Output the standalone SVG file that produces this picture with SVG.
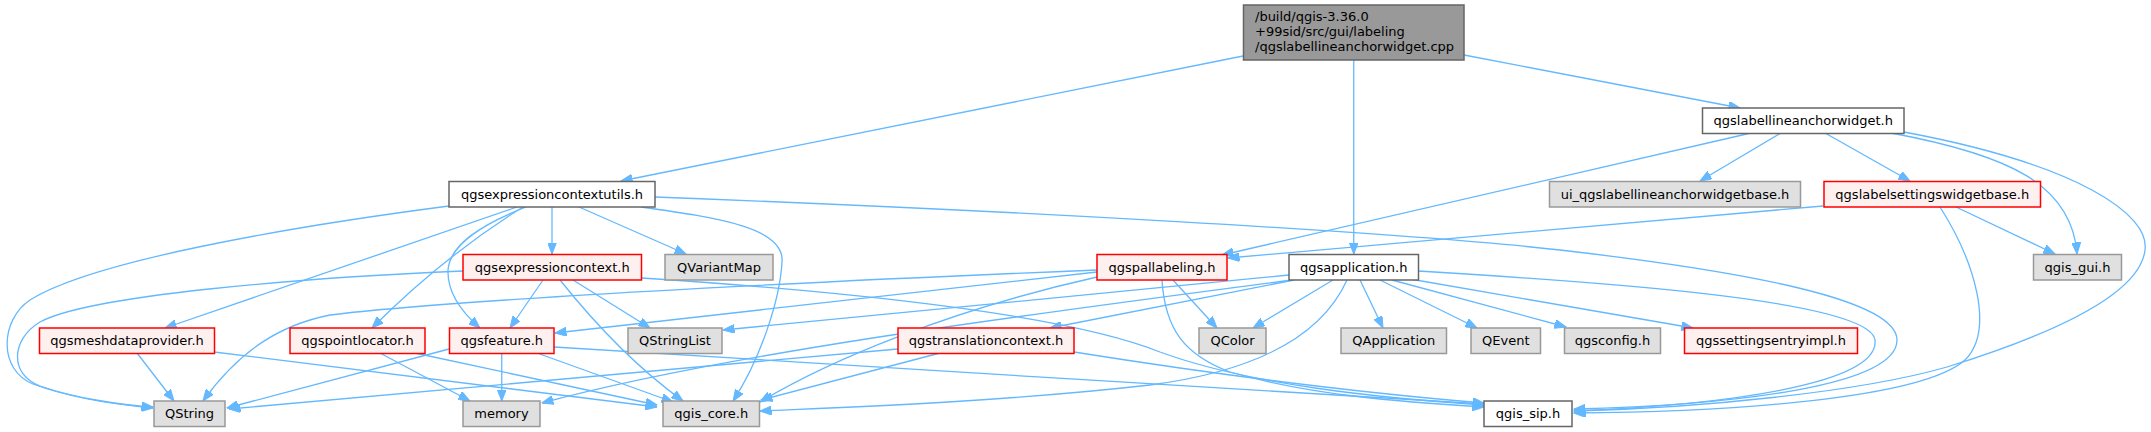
<svg xmlns="http://www.w3.org/2000/svg" width="2151" height="432" viewBox="0 0 2151 432">
<style>
  rect { stroke-width: 1.5; }
  .w rect { fill: #ffffff; stroke: #666666; }
  .g rect { fill: #e0e0e0; stroke: #999999; }
  .r rect { fill: #fff0f0; stroke: #ff0000; }
  .top rect { fill: #999999; stroke: #666666; }
  text { font-family: "DejaVu Sans", "Liberation Sans", sans-serif; font-size: 13px; fill: #000000; }
  .c { text-anchor: middle; }
  #edges path { fill: none; stroke: #63b8ff; stroke-width: 1.3; marker-end: url(#arr); }
</style>
<defs>
  <marker id="arr" markerUnits="userSpaceOnUse" markerWidth="12" markerHeight="9" viewBox="0 0 12 9" refX="11.5" refY="4.5" orient="auto">
    <path d="M0,0 L11.5,4.5 L0,9 z" fill="#63b8ff" stroke="#63b8ff" stroke-width="1"/>
  </marker>
</defs>
<rect width="2151" height="432" fill="#ffffff"/>
<g id="edges">
  <path d="M1243,56 L621,181"/>
  <path d="M1353.75,60 L1353.75,254"/>
  <path d="M1464,55 L1740,108"/>
  <path d="M1751,133 L1222,255"/>
  <path d="M1781,133 L1700,181"/>
  <path d="M1825,133 L1910,181"/>
  <path d="M1891,133 C2010,155 2072,185 2077,254"/>
  <path d="M1904,132 C2080,165 2150,215 2145,250 C2140,295 2050,335 1947,367 C1860,392 1700,408 1574,411"/>
  <path d="M1823,206 L1228,258"/>
  <path d="M1956,207 L2055,254"/>
  <path d="M1940,207 C1975,262 1995,330 1965,360 C1920,400 1720,412 1574,413"/>
  <path d="M449,206 C280,228 90,262 30,300 C0,320 -2,370 33,384 C70,398 120,405 153,408"/>
  <path d="M463,271 C300,278 90,295 40,322 C10,340 10,375 40,386 C75,398 120,405 153,407"/>
  <path d="M137,353 L174,401"/>
  <path d="M1097,270 C800,282 450,300 330,315 C280,325 240,350 203,401"/>
  <path d="M449,349 L227,408"/>
  <path d="M898,349 L229,409"/>
  <path d="M517,207 L165,328"/>
  <path d="M523,207 C470,240 420,280 372,328"/>
  <path d="M526,207 C480,225 450,245 448,270 C447,295 465,315 480,328"/>
  <path d="M552,207 L552,254"/>
  <path d="M579,207 L686,254"/>
  <path d="M641,207 C720,218 785,228 782,262 C780,300 760,360 733,401"/>
  <path d="M655,197 C1000,210 1400,232 1560,250 C1750,272 1897,300 1897,340 C1897,385 1740,405 1574,409"/>
  <path d="M543,280 L510,328"/>
  <path d="M573,280 L650,328"/>
  <path d="M560,280 C600,330 640,370 683,401"/>
  <path d="M642,278 C900,295 1080,320 1160,352 C1250,385 1380,398 1484,405"/>
  <path d="M1097,272 L555,333"/>
  <path d="M1097,277 C950,310 830,360 760,402"/>
  <path d="M1173,280 L1217,328"/>
  <path d="M1162,280 C1165,330 1185,355 1230,372 C1310,395 1400,402 1484,407"/>
  <path d="M501.75,353 L501.75,401"/>
  <path d="M537,353 L673,402"/>
  <path d="M554,347 C800,365 1200,385 1484,404"/>
  <path d="M940,353 L761,400"/>
  <path d="M1074,352 C1200,372 1350,392 1484,403"/>
  <path d="M380,353 L470,401"/>
  <path d="M415,353 L657,405"/>
  <path d="M214,352 L657,407"/>
  <path d="M1289,275 L723,330"/>
  <path d="M1292,280 C1000,318 720,355 542,403"/>
  <path d="M1294,280 L1050,328"/>
  <path d="M1347,280 C1320,340 1250,372 1150,385 C1000,402 850,407 760,411"/>
  <path d="M1333,280 L1253,328"/>
  <path d="M1360,280 L1383,328"/>
  <path d="M1380,280 L1477,328"/>
  <path d="M1392,280 L1566,327"/>
  <path d="M1410,279 L1693,328"/>
  <path d="M1418,271 C1600,282 1870,300 1875,340 C1880,385 1720,405 1574,411"/>
</g>
<g id="n_top" class="top"><rect x="1243.5" y="5" width="220.5" height="55"/><text x="1255" y="21">/build/qgis-3.36.0</text><text x="1255" y="36">+99sid/src/gui/labeling</text><text x="1255" y="51">/qgslabellineanchorwidget.cpp</text></g>
<g id="n_qgslabellineanchorwidget" class="w"><rect x="1702.5" y="108" width="201.5" height="25.5"/><text class="c" x="1803.25" y="125">qgslabellineanchorwidget.h</text></g>
<g id="n_qgsexpressioncontextutils" class="w"><rect x="449" y="181.5" width="206" height="25.5"/><text class="c" x="552" y="198.5">qgsexpressioncontextutils.h</text></g>
<g id="n_ui_qgslabellineanchorwidgetbase" class="g"><rect x="1549.5" y="181.5" width="251" height="25.5"/><text class="c" x="1675" y="198.5">ui_qgslabellineanchorwidgetbase.h</text></g>
<g id="n_qgslabelsettingswidgetbase" class="r"><rect x="1824" y="181.5" width="216.5" height="25.5"/><text class="c" x="1932.25" y="198.5">qgslabelsettingswidgetbase.h</text></g>
<g id="n_qgsexpressioncontext" class="r"><rect x="463" y="254.5" width="178.5" height="25.5"/><text class="c" x="552.25" y="271.5">qgsexpressioncontext.h</text></g>
<g id="n_QVariantMap" class="g"><rect x="665" y="254.5" width="108" height="25.5"/><text class="c" x="719" y="271.5">QVariantMap</text></g>
<g id="n_qgspallabeling" class="r"><rect x="1097" y="254.5" width="130" height="25.5"/><text class="c" x="1162" y="271.5">qgspallabeling.h</text></g>
<g id="n_qgsapplication" class="w"><rect x="1289" y="254.5" width="129.5" height="25.5"/><text class="c" x="1353.75" y="271.5">qgsapplication.h</text></g>
<g id="n_qgis_gui" class="g"><rect x="2033.5" y="254.5" width="88" height="25.5"/><text class="c" x="2077.5" y="271.5">qgis_gui.h</text></g>
<g id="n_qgsmeshdataprovider" class="r"><rect x="39.5" y="328" width="175" height="25.5"/><text class="c" x="127" y="345">qgsmeshdataprovider.h</text></g>
<g id="n_qgspointlocator" class="r"><rect x="290" y="328" width="135" height="25.5"/><text class="c" x="357.5" y="345">qgspointlocator.h</text></g>
<g id="n_qgsfeature" class="r"><rect x="449.5" y="328" width="104.5" height="25.5"/><text class="c" x="501.75" y="345">qgsfeature.h</text></g>
<g id="n_QStringList" class="g"><rect x="628" y="328" width="94" height="25.5"/><text class="c" x="675" y="345">QStringList</text></g>
<g id="n_qgstranslationcontext" class="r"><rect x="898" y="328" width="176" height="25.5"/><text class="c" x="986" y="345">qgstranslationcontext.h</text></g>
<g id="n_QColor" class="g"><rect x="1199" y="328" width="67" height="25.5"/><text class="c" x="1232.5" y="345">QColor</text></g>
<g id="n_QApplication" class="g"><rect x="1341" y="328" width="105.5" height="25.5"/><text class="c" x="1393.75" y="345">QApplication</text></g>
<g id="n_QEvent" class="g"><rect x="1471" y="328" width="69.5" height="25.5"/><text class="c" x="1505.75" y="345">QEvent</text></g>
<g id="n_qgsconfig" class="g"><rect x="1564.5" y="328" width="96" height="25.5"/><text class="c" x="1612.5" y="345">qgsconfig.h</text></g>
<g id="n_qgssettingsentryimpl" class="r"><rect x="1684.5" y="328" width="173" height="25.5"/><text class="c" x="1771" y="345">qgssettingsentryimpl.h</text></g>
<g id="n_QString" class="g"><rect x="154" y="401" width="71" height="25.5"/><text class="c" x="189.5" y="418">QString</text></g>
<g id="n_memory" class="g"><rect x="463" y="401" width="77" height="25.5"/><text class="c" x="501.5" y="418">memory</text></g>
<g id="n_qgis_core" class="g"><rect x="663" y="401" width="96.5" height="25.5"/><text class="c" x="711.25" y="418">qgis_core.h</text></g>
<g id="n_qgis_sip" class="w"><rect x="1484" y="401" width="88" height="25.5"/><text class="c" x="1528" y="418">qgis_sip.h</text></g>
</svg>
